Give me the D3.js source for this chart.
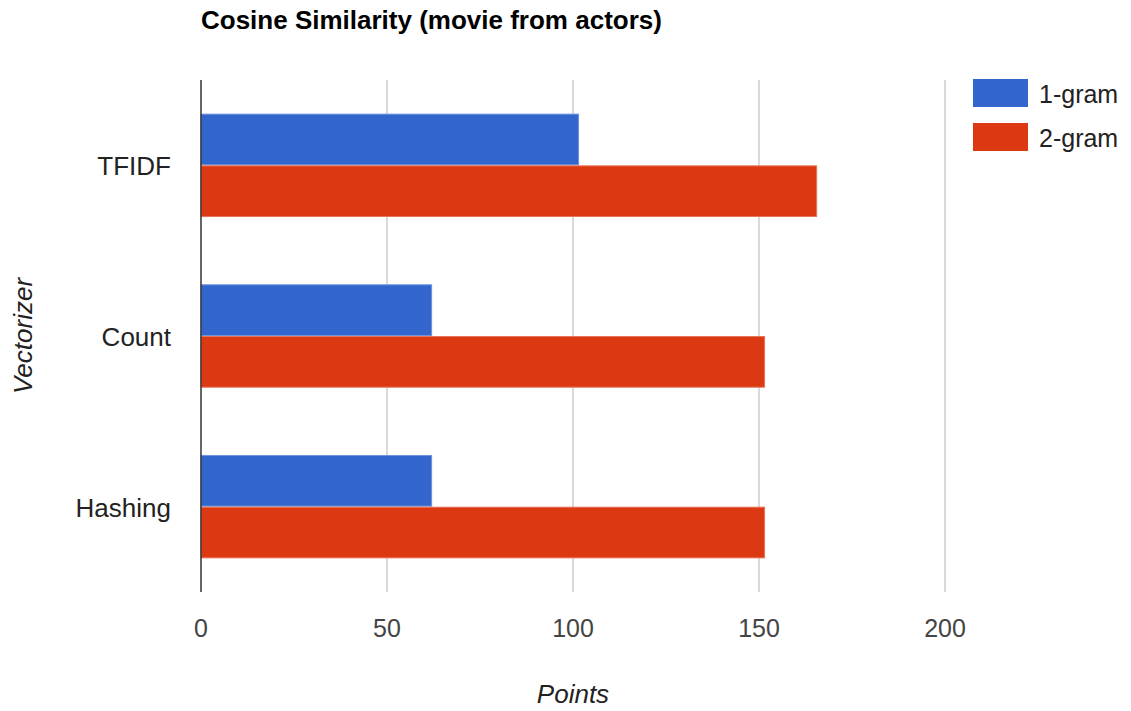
<!DOCTYPE html>
<html>
<head>
<meta charset="utf-8">
<script src="https://cdn.jsdelivr.net/npm/d3@7"></script>
<style>
  body { margin: 0; background: #fff; }
  text { font-family: "Liberation Sans", Arial, sans-serif; }
</style>
</head>
<body>
<div id="chart"></div>
<script>
const categories = ['TFIDF', 'Count', 'Hashing']
const seriesNames = ['1-gram', '2-gram']
const oneGram = [101.5, 62, 62]
const twoGram = [165.5, 151.5, 151.5]
const xTicks = [0, 50, 100, 150, 200]
const colors = ['#3366cc', '#dc3912']

const width = 1131
const height = 711
const margin = { top: 80, right: 186, bottom: 119, left: 201 }
const plotH = height - margin.top - margin.bottom

const svg = d3.select('#chart').append('svg')
  .attr('width', width)
  .attr('height', height)

const x = d3.scaleLinear().domain([0, 200]).range([0, 744])
const y = d3.scaleBand().domain(categories).range([0, plotH]).paddingInner(0.4).paddingOuter(0.2)
const ySub = d3.scaleBand().domain(seriesNames).range([0, y.bandwidth()]).paddingInner(0.02)

const g = svg.append('g').attr('transform', `translate(${margin.left},${margin.top})`)

// gridlines
g.selectAll('.grid')
  .data(xTicks.slice(1))
  .enter().append('line')
  .attr('x1', d => x(d)).attr('x2', d => x(d))
  .attr('y1', 0).attr('y2', plotH)
  .attr('stroke', '#cccccc')
  .attr('stroke-width', 1.5)

// tick labels
g.selectAll('.tick-label')
  .data(xTicks)
  .enter().append('text')
  .attr('x', d => x(d))
  .attr('y', plotH + 45)
  .attr('text-anchor', 'middle')
  .attr('font-size', 25)
  .attr('fill', '#444')
  .text(d => d)

// bars
const rows = categories.map((c, i) => ({ cat: c, values: [oneGram[i], twoGram[i]] }))
const group = g.selectAll('.row')
  .data(rows)
  .enter().append('g')
  .attr('transform', d => `translate(0,${y(d.cat)})`)

group.selectAll('rect')
  .data(d => d.values.map((v, j) => ({ name: seriesNames[j], v, j })))
  .enter().append('rect')
  .attr('x', 0)
  .attr('y', d => ySub(d.name))
  .attr('width', d => x(d.v))
  .attr('height', ySub.bandwidth())
  .attr('fill', d => colors[d.j])
  .attr('stroke', d => d.j === 0 ? '#6f93dd' : '#e8745a')
  .attr('stroke-width', 1)

// category labels
g.selectAll('.cat-label')
  .data(categories)
  .enter().append('text')
  .attr('x', -30)
  .attr('y', d => y(d) + y.bandwidth() / 2 + 10)
  .attr('text-anchor', 'end')
  .attr('font-size', 26)
  .attr('fill', '#222')
  .text(d => d)

// baseline axis
g.append('line')
  .attr('x1', 0).attr('x2', 0)
  .attr('y1', 0).attr('y2', plotH)
  .attr('stroke', '#333')
  .attr('stroke-width', 1.5)

// title
svg.append('text')
  .attr('x', 201)
  .attr('y', 29)
  .attr('font-size', 26)
  .attr('font-weight', 'bold')
  .attr('fill', '#000')
  .text('Cosine Similarity (movie from actors)')

// axis titles
svg.append('text')
  .attr('x', margin.left + x(100))
  .attr('y', 703)
  .attr('text-anchor', 'middle')
  .attr('font-size', 26)
  .attr('font-style', 'italic')
  .attr('fill', '#222')
  .text('Points')

svg.append('text')
  .attr('transform', `translate(32,${margin.top + plotH / 2}) rotate(-90)`)
  .attr('text-anchor', 'middle')
  .attr('font-size', 26)
  .attr('font-style', 'italic')
  .attr('fill', '#222')
  .text('Vectorizer')

// legend
const legend = svg.append('g').attr('transform', 'translate(973,79)')
const item = legend.selectAll('.item')
  .data(seriesNames)
  .enter().append('g')
  .attr('transform', (d, i) => `translate(0,${i * 44})`)

item.append('rect')
  .attr('width', 55)
  .attr('height', 28)
  .attr('fill', (d, i) => colors[i])

item.append('text')
  .attr('x', 66)
  .attr('y', 24)
  .attr('font-size', 25)
  .attr('fill', '#222')
  .text(d => d)
</script>
</body>
</html>
